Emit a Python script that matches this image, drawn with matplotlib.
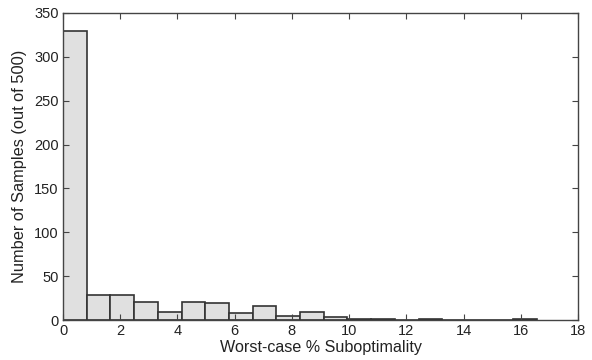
import matplotlib
matplotlib.use("Agg")
import matplotlib.pyplot as plt
import numpy as np

plt.rcParams['font.family'] = ['Liberation Sans', 'DejaVu Sans']

counts = [330, 29, 28, 21, 9, 20, 19, 8, 16, 4, 9, 3, 1, 1, 0, 1, 0, 0, 0, 1]
data_min = 0.0
data_max = 16.57
xticks = [0, 2, 4, 6, 8, 10, 12, 14, 16, 18]
yticks = [0, 50, 100, 150, 200, 250, 300, 350]

edges = np.linspace(data_min, data_max, len(counts) + 1)

fig = plt.figure(figsize=(5.92, 3.6), dpi=100)
ax = fig.add_axes([63/592, 1 - 320/360, (578-63)/592, (320-13)/360])
ax.bar(edges[:-1], counts, width=np.diff(edges), align='edge',
       color='#e0e0e0', edgecolor='#333333', linewidth=1.2)
ax.set_xlim(0, 18)
ax.set_ylim(0, 350)
ax.set_xticks(xticks)
ax.set_yticks(yticks)
ax.tick_params(direction='in', top=True, right=True, labelsize=10.5, length=4,
               color='#444444', labelcolor='#222222', pad=3)
for s in ax.spines.values():
    s.set_color('#444444')
    s.set_linewidth(1.0)
ax.set_xlabel('Worst-case % Suboptimality', fontsize=11.6, labelpad=1, color='#222222')
ax.set_ylabel('Number of Samples (out of 500)', fontsize=11.8, labelpad=5, color='#222222')
fig.savefig('out.png', dpi=100)
